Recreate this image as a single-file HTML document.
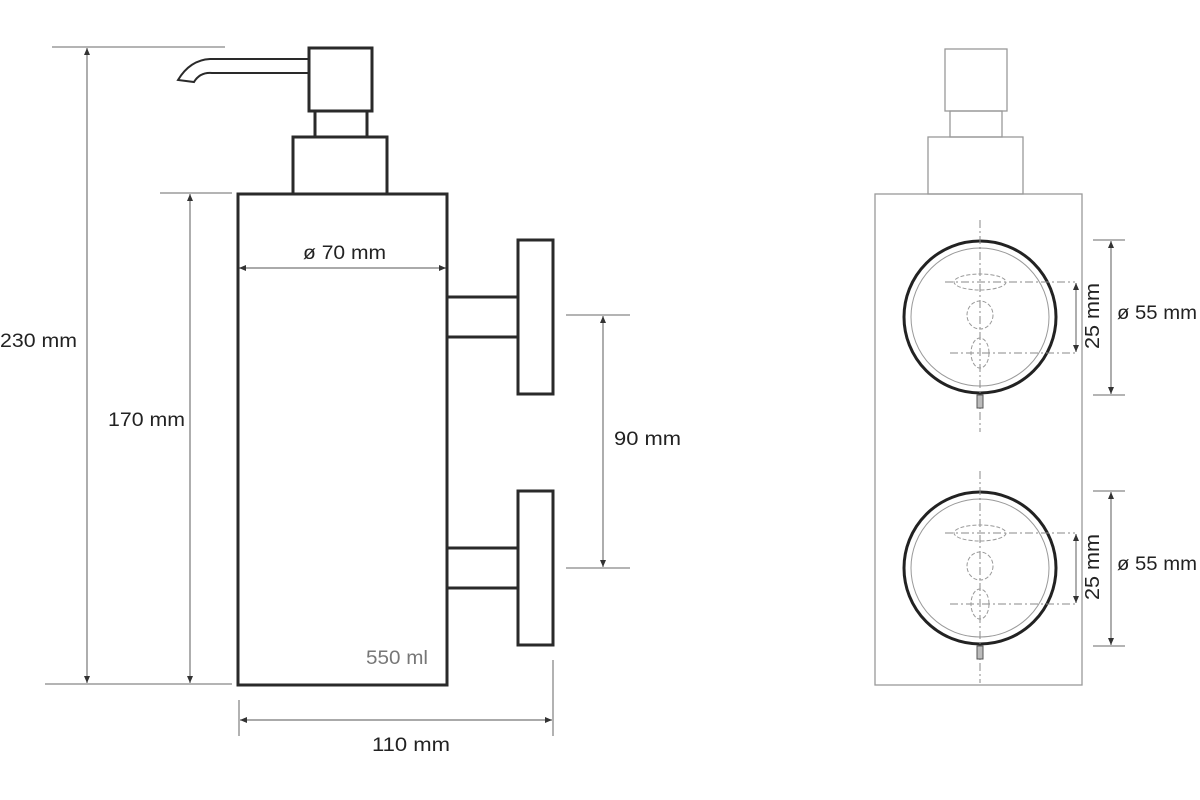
<!DOCTYPE html>
<html><head><style>body{margin:0;background:#fff}svg{display:block}text{font-family:"Liberation Sans",sans-serif;font-size:19px;fill:#222}</style></head><body>
<svg width="1200" height="800" viewBox="0 0 1200 800">
<defs><marker id="a" markerWidth="8" markerHeight="8" refX="7" refY="4" orient="auto-start-reverse" markerUnits="userSpaceOnUse"><path d="M0,1 L7,4 L0,7Z" fill="#333"/></marker></defs>
<g stroke="#888" stroke-width="1.3" fill="none">
<line x1="52" y1="47" x2="225" y2="47"/>
<line x1="160" y1="193" x2="232" y2="193"/>
<line x1="45" y1="684" x2="232" y2="684"/>
<line x1="239" y1="700" x2="239" y2="736"/>
<line x1="553" y1="660" x2="553" y2="736"/>
<line x1="566" y1="315" x2="630" y2="315"/>
<line x1="566" y1="568" x2="630" y2="568"/>
</g>
<g stroke="#777" stroke-width="1.2" marker-start="url(#a)" marker-end="url(#a)">
<line x1="87" y1="48" x2="87" y2="683"/>
<line x1="190" y1="194" x2="190" y2="683"/>
<line x1="240" y1="720" x2="552" y2="720"/>
<line x1="603" y1="316" x2="603" y2="567"/>
<line x1="239" y1="268" x2="446" y2="268"/>
</g>
<text x="0" y="347" textLength="77" lengthAdjust="spacingAndGlyphs">230 mm</text>
<text x="108" y="426" textLength="77" lengthAdjust="spacingAndGlyphs">170 mm</text>
<text x="303" y="259" textLength="83" lengthAdjust="spacingAndGlyphs">ø 70 mm</text>
<text x="372" y="751" textLength="78" lengthAdjust="spacingAndGlyphs">110 mm</text>
<text x="614" y="445" textLength="67" lengthAdjust="spacingAndGlyphs">90 mm</text>
<text x="366" y="664" textLength="62" lengthAdjust="spacingAndGlyphs" style="fill:#777">550 ml</text>
<g stroke="#2a2a2a" stroke-width="3" fill="none">
<rect x="238" y="194" width="209" height="491"/>
<rect x="293" y="137" width="94" height="57"/>
<rect x="315" y="111" width="52" height="26"/>
<rect x="309" y="48" width="63" height="63"/>
<rect x="518" y="240" width="35" height="154"/>
<rect x="447" y="297" width="71" height="40"/>
<rect x="518" y="491" width="35" height="154"/>
<rect x="447" y="548" width="71" height="40"/>
</g>
<path d="M309,59 L210,59 Q190,60 178,80 L194,82 Q200,72 212,73 L309,73" stroke="#2a2a2a" stroke-width="2" fill="none"/>
<g stroke="#999" stroke-width="1.3" fill="none">
<rect x="875" y="194" width="207" height="491"/>
<rect x="928" y="137" width="95" height="57"/>
<rect x="950" y="111" width="52" height="26"/>
<rect x="945" y="49" width="62" height="62"/>
</g>
<g id="c">
<circle cx="980" cy="317" r="76" stroke="#222" stroke-width="3" fill="none"/>
<circle cx="980" cy="317" r="69" stroke="#999" stroke-width="1" fill="none"/>
<g stroke="#888" stroke-width="1" stroke-dasharray="8,3,2,3" fill="none">
<line x1="980" y1="220" x2="980" y2="432"/>
<line x1="945" y1="282" x2="1075" y2="282"/>
<line x1="950" y1="353" x2="1075" y2="353"/>
</g>
<g stroke="#999" stroke-width="1" stroke-dasharray="4,2" fill="none">
<ellipse cx="980" cy="282" rx="26" ry="8"/>
<ellipse cx="980" cy="315" rx="13" ry="14"/>
<ellipse cx="980" cy="353" rx="9" ry="15"/>
</g>
<rect x="977" y="395" width="6" height="13" fill="#bbb" stroke="#555" stroke-width="1"/>
<g stroke="#888" stroke-width="1.2"><line x1="1093" y1="240" x2="1125" y2="240"/><line x1="1093" y1="395" x2="1125" y2="395"/></g>
<g stroke="#777" stroke-width="1.2" marker-start="url(#a)" marker-end="url(#a)">
<line x1="1111" y1="241" x2="1111" y2="394"/>
<line x1="1076" y1="283" x2="1076" y2="352"/>
</g>
<text x="1117" y="319" textLength="80" lengthAdjust="spacingAndGlyphs">ø 55 mm</text>
<text transform="translate(1099,349) rotate(-90)" textLength="66" lengthAdjust="spacingAndGlyphs" style="font-size:20px">25 mm</text>
</g>
<use href="#c" y="251"/>
</svg>
</body></html>
